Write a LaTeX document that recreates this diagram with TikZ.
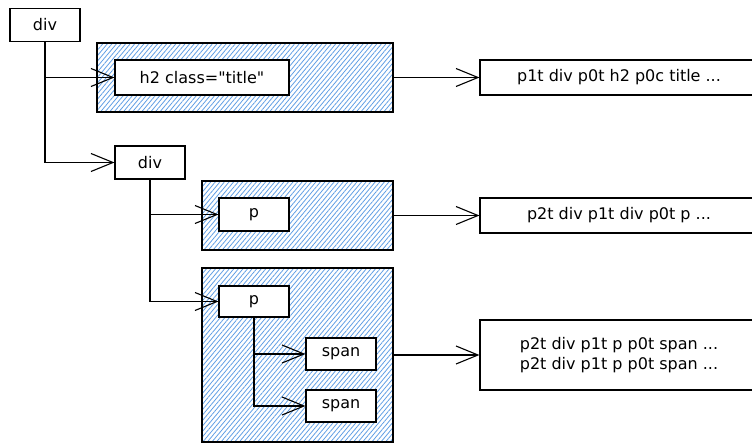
\documentclass[tikz,border=0pt]{standalone}
\usepackage{fontspec}
\setmainfont{DejaVu Sans}
\usepackage{tikz}
\usetikzlibrary{arrows.meta,patterns.meta}
\definecolor{hatchblue}{RGB}{96,158,228}

\begin{document}
\begin{tikzpicture}[x=1pt,y=-1pt,line width=1.1pt,
	box/.style={draw,fill=white,inner sep=0pt,minimum width=70pt,minimum height=33pt,
		font=\fontsize{16}{20}\selectfont},
	wide/.style={box,minimum width=278pt,minimum height=35pt,align=center},
	hatch/.style={draw,inner sep=0pt,
		pattern={Lines[angle=50,distance=3.5pt,line width=0.8pt]},pattern color=hatchblue},
	arr/.style={-{Straight Barb[length=22pt,width=18pt,line width=1.1pt]}}]
			\useasboundingbox (0,0) rectangle (752,444);
			% hatched groups
			\node[hatch,minimum width=296pt,minimum height=69pt] (grp1) at (245,77.5) {};
			\node[hatch,minimum width=191pt,minimum height=69pt] (grp2) at (297.5,215.5) {};
			\node[hatch,minimum width=191pt,minimum height=174pt] (grp3) at (297.5,355) {};
			% tree
			\node[box] (div) at (45,25) {div};
			\node[box,minimum width=174pt,minimum height=35pt] (h2) at (202,77.5) {h2 class=\textquotedbl title\textquotedbl};
			\node[box] (div2) at (150,162.5) {div};
			\node[box] (p1) at (254,214.5) {p};
			\node[box,minimum height=31pt] (p2) at (254,301.5) {p};
			\node[box,minimum height=32pt] (span1) at (341,354) {span};
			\node[box,minimum height=32pt] (span2) at (341,406) {span};
			% results
			\node[wide] (res1) at (619,77.5) {p1t div p0t h2 p0c title ...};
			\node[wide] (res2) at (619,215.5) {p2t div p1t div p0t p ...};
			\node[wide,minimum height=70pt] (res3) at (619,355) {p2t div p1t p p0t span ...\\p2t div p1t p p0t span ...};
			\draw[arr] (div.south) |- (h2.west);
			\draw[arr] (div.south) |- (div2.west);
			\draw[arr] (div2.south) |- (p1.west);
			\draw[arr] (div2.south) |- (p2.west);
			\draw[arr] (p2.south) |- (span1.west);
			\draw[arr] (p2.south) |- (span2.west);
			\draw[arr] (grp1.east) -- (res1.west);
			\draw[arr] (grp2.east) -- (res2.west);
			\draw[arr] (grp3.east) -- (res3.west);
		\end{tikzpicture}
\end{document}
